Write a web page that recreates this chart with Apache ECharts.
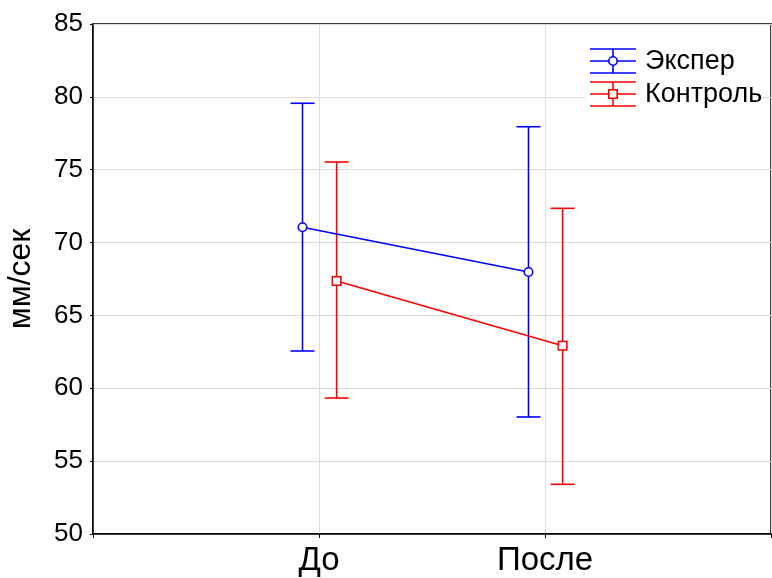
<!DOCTYPE html>
<html><head><meta charset="utf-8">
<script src="https://cdn.jsdelivr.net/npm/echarts@6/dist/echarts.min.js"></script>
<style>html,body{margin:0;padding:0;background:#fff}#c{width:772px;height:578px}</style>
</head><body><div id="c"></div>
<script>
var categories = ['До', 'После'];
var seriesNames = ['Экспер', 'Контроль'];
var experMean = [71.05, 67.98];
var experUpper = [79.56, 77.95];
var experLower = [62.56, 58.03];
var controlMean = [67.36, 62.92];
var controlUpper = [75.53, 72.35];
var controlLower = [59.33, 53.41];
var yTicks = [50, 55, 60, 65, 70, 75, 80, 85];

var FONT = 'Liberation Sans, Arial, sans-serif';
var chart = echarts.init(document.getElementById('c'), null, {renderer: 'canvas'});

function errData(mean, lower, upper) {
  return categories.map(function (c, i) { return [i + 1, mean[i], lower[i], upper[i]]; });
}
function makeErr(color, offset) {
  return function (params, api) {
    var x = api.value(0) + offset;
    var lo = api.coord([x, api.value(2)]);
    var hi = api.coord([x, api.value(3)]);
    var cap = 12;
    var st = {stroke: color, lineWidth: 1.6};
    return {type: 'group', children: [
      {type: 'line', shape: {x1: lo[0], y1: lo[1], x2: hi[0], y2: hi[1]}, style: st},
      {type: 'line', shape: {x1: lo[0] - cap, y1: lo[1], x2: lo[0] + cap, y2: lo[1]}, style: st},
      {type: 'line', shape: {x1: hi[0] - cap, y1: hi[1], x2: hi[0] + cap, y2: hi[1]}, style: st}
    ]};
  };
}
var offE = -0.073, offC = 0.078;

function legendIcon(y, color, symbol, name) {
  var x0 = 590, x1 = 636, xc = 613, h = 12, Z = 20;
  var st = {stroke: color, lineWidth: 1.6};
  var els = [
    {type: 'line', z: Z, shape: {x1: x0, y1: y - h, x2: x1, y2: y - h}, style: st},
    {type: 'line', z: Z, shape: {x1: x0, y1: y, x2: x1, y2: y}, style: st},
    {type: 'line', z: Z, shape: {x1: x0, y1: y + h, x2: x1, y2: y + h}, style: st},
    {type: 'line', z: Z, shape: {x1: xc, y1: y - h, x2: xc, y2: y + h}, style: st}
  ];
  if (symbol === 'circle') els.push({type: 'circle', z: Z + 1, shape: {cx: xc, cy: y, r: 4.2}, style: {stroke: color, fill: '#fff', lineWidth: 1.6}});
  else els.push({type: 'rect', z: Z + 1, shape: {x: xc - 4.2, y: y - 4.2, width: 8.4, height: 8.4}, style: {stroke: color, fill: '#fff', lineWidth: 1.6}});
  els.push({type: 'text', z: Z, x: 645, y: y + 1, style: {text: name, fill: '#000', font: '27px ' + FONT, verticalAlign: 'middle', align: 'left'}});
  return els;
}

var graphics = [{type: 'rect', z: 15, shape: {x: 586, y: 40, width: 176, height: 70}, style: {fill: '#fff'}}]
  .concat(legendIcon(61, '#0000ff', 'circle', seriesNames[0]))
  .concat(legendIcon(94, '#ff0000', 'rect', seriesNames[1]));

chart.setOption({
  animation: false,
  backgroundColor: '#fff',
  grid: {left: 93, right: 1, top: 24, bottom: 44, show: true, borderColor: '#000', borderWidth: 1.5, outerBoundsMode: 'none', containLabel: false},
  xAxis: {
    type: 'value', min: 0, max: 3, interval: 1,
    axisLine: {show: true, lineStyle: {color: '#000', width: 1.5}},
    axisTick: {show: true, inside: false, length: 4, lineStyle: {color: '#000'}},
    axisLabel: {
      fontSize: 33, color: '#000', fontFamily: FONT, margin: 10,
      formatter: function (v) { return (v >= 1 && v <= categories.length) ? categories[v - 1] : ''; }
    },
    splitLine: {show: true, lineStyle: {color: '#dcdcdc', width: 1}}
  },
  yAxis: {
    type: 'value', min: yTicks[0], max: yTicks[yTicks.length - 1], interval: 5,
    name: 'мм/сек', nameLocation: 'middle', nameGap: 56, nameRotate: 90,
    nameTextStyle: {fontSize: 32, color: '#000', fontFamily: FONT},
    axisLine: {show: true, lineStyle: {color: '#000', width: 1.5}},
    axisTick: {show: true, inside: false, length: 3, lineStyle: {color: '#000'}},
    axisLabel: {fontSize: 26, color: '#000', fontFamily: FONT, margin: 10},
    splitLine: {show: true, lineStyle: {color: '#dcdcdc', width: 1}}
  },
  graphic: graphics,
  series: [
    {type: 'custom', name: seriesNames[0] + ' err', renderItem: makeErr('#0000ff', offE), data: errData(experMean, experLower, experUpper), encode: {x: 0, y: [1, 2, 3]}, z: 2},
    {type: 'custom', name: seriesNames[1] + ' err', renderItem: makeErr('#ff0000', offC), data: errData(controlMean, controlLower, controlUpper), encode: {x: 0, y: [1, 2, 3]}, z: 2},
    {type: 'line', name: seriesNames[0], data: experMean.map(function (v, i) { return [i + 1 + offE, v]; }),
     symbol: 'circle', symbolSize: 8.5, lineStyle: {color: '#0000ff', width: 1.6},
     itemStyle: {color: '#fff', borderColor: '#0000ff', borderWidth: 1.6}, z: 3},
    {type: 'line', name: seriesNames[1], data: controlMean.map(function (v, i) { return [i + 1 + offC, v]; }),
     symbol: 'rect', symbolSize: 8.5, lineStyle: {color: '#ff0000', width: 1.6},
     itemStyle: {color: '#fff', borderColor: '#ff0000', borderWidth: 1.6}, z: 3}
  ]
});
</script></body></html>
